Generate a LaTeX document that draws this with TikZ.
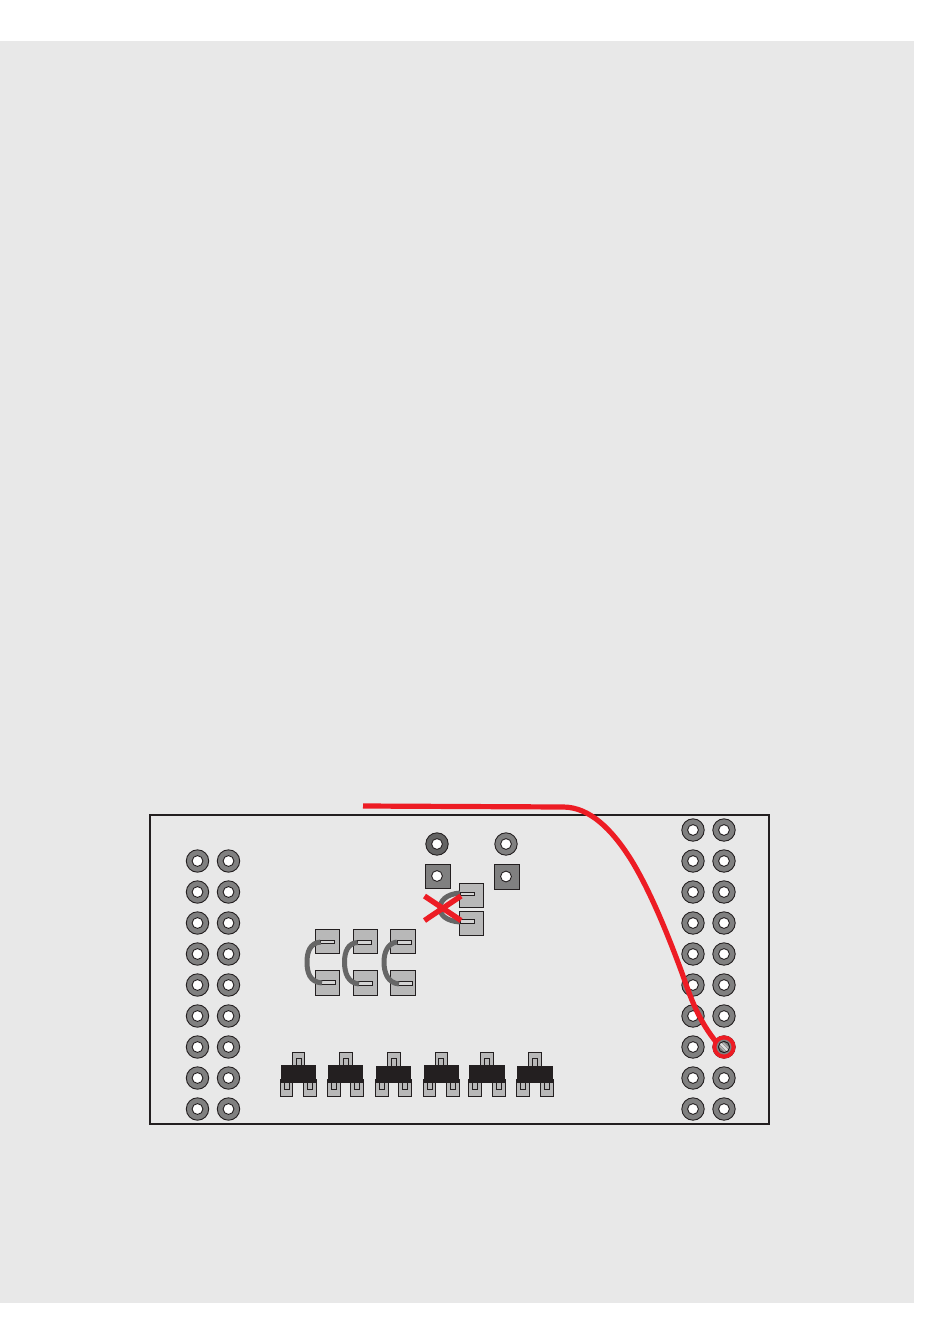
\documentclass[tikz,border=0pt]{standalone}
\definecolor{bgc}{HTML}{E8E8E8}
\definecolor{ink}{HTML}{231F20}
\definecolor{ringc}{HTML}{808080}
\definecolor{ringd}{HTML}{636363}
\definecolor{padc}{HTML}{B8B8B8}
\definecolor{wirec}{HTML}{666666}
\definecolor{redc}{HTML}{ED1C24}
\tikzset{
  ringpad/.style={draw=ink,line width=0.9pt,fill=ringc},
  holec/.style={draw=ink,line width=0.9pt,fill=white},
  lightpad/.style={draw=ink,line width=0.9pt,fill=padc},
  graypad/.style={draw=ink,line width=0.9pt,fill=ringc},
  slotc/.style={draw=ink,line width=0.9pt,fill=padc!60!white},
  tabc/.style={draw=ink,line width=1pt,fill=padc},
  greywire/.style={draw=wirec,line width=5pt},
  redwire/.style={draw=redc,line width=5.2pt},
  redcross/.style={draw=redc,line width=5.4pt},
}
\newcommand{\ringat}[3][ringc]{%
  \fill[ringpad,fill=#1] (#2,#3) circle (11.2);
  \draw[holec] (#2,#3) circle (5.4);}
% \xstor{tab l}{tab r}{body l}{body r}{body top}{foot1 l}{foot1 r}{foot2 l}{foot2 r}
\newcommand{\xstor}[9]{%
  \draw[tabc] (#1,1052.3) rectangle (#2,1070);
  \draw[tabc] ({(#1+#2)/2-2.5},1058.3) rectangle ({(#1+#2)/2+2.5},1070);
  \draw[tabc] (#6,1080) rectangle (#7,1096.7);
  \draw[tabc] (#8,1080) rectangle (#9,1096.7);
  \draw[tabc] ({(#6+#7)/2-2.5},1080) rectangle ({(#6+#7)/2+2.5},1089.3);
  \draw[tabc] ({(#8+#9)/2-2.5},1080) rectangle ({(#8+#9)/2+2.5},1089.3);
  \fill[ink] (#3,#5) rectangle (#4,1082.7);
  \fill[ink] (#6-0.5,1079.3) rectangle (#9+0.5,1082.7);}
\begin{document}
\begin{tikzpicture}[x=1pt,y=-1pt]
\useasboundingbox (0,0) rectangle (950,1339);
\fill[white] (0,0) rectangle (950,1339);
\fill[bgc] (0,41) rectangle (914,1303);
\draw[ink,line width=2pt] (150,815) rectangle (769,1124);
% ring pads, left
\foreach \yy in {861,892,923,954,985,1016,1047,1078,1109}{
  \ringat{197.5}{\yy}\ringat{228.5}{\yy}}
% ring pads, right
\foreach \yy in {830,861,892,923,954,985,1016,1047,1078,1109}{
  \ringat{693}{\yy}\ringat{724}{\yy}}
% top pads
\ringat[ringd]{437}{844}
\ringat{506}{844}
\draw[graypad] (425,864) rectangle (450,888.5);
\draw[holec] (437,876) circle (5.4);
\draw[graypad] (494,864.5) rectangle (519,889);
\draw[holec] (506,876.5) circle (5.4);
% jumper pads
\draw[lightpad] (459.5,883.5) rectangle (483.5,907.5);
\draw[lightpad] (459.5,911.5) rectangle (483.5,935.5);
\draw[slotc] (460,892) rectangle (474.5,895.5);
\draw[slotc] (460,919.5) rectangle (474.5,923);
\draw[greywire] (460,893) .. controls (446,894) and (440,901) .. (440,908)
   .. controls (440,915) and (446,921) .. (460,922);
\draw[lightpad] (315.5,929.5) rectangle (339.5,953.5);
\draw[lightpad] (315.5,970.5) rectangle (339.5,995.5);
\draw[lightpad] (353.5,929.5) rectangle (377.5,953.5);
\draw[lightpad] (353.5,970.5) rectangle (377.5,995.5);
\draw[lightpad] (390.5,929.5) rectangle (415.5,953.5);
\draw[lightpad] (390.5,970.5) rectangle (415.5,995.5);
\draw[slotc] (320,940.5) rectangle (334.5,943.8);
\draw[slotc] (321,980.5) rectangle (335.5,984.5);
\draw[slotc] (357.5,940.5) rectangle (371.5,944.5);
\draw[slotc] (358.5,981.5) rectangle (372.5,985.5);
\draw[slotc] (397.5,940.5) rectangle (411.5,944);
\draw[slotc] (398.5,981) rectangle (412.5,985);
\draw[greywire] (320.5,942) .. controls (310,943) and (307,952) .. (307,962)
   .. controls (307,973) and (310,982) .. (322,983);
\draw[greywire] (357.5,942.5) .. controls (348,943) and (344.5,952) .. (344.5,962)
   .. controls (344.5,973) and (348,983) .. (359,984);
\draw[greywire] (397,942) .. controls (388,943) and (384,952) .. (384,962)
   .. controls (384,973) and (388,983) .. (399,984);
% red cross
\draw[redcross] (424.5,896) -- (461,920.5);
\draw[redcross] (424.5,920.5) -- (461,896);
% transistors
\xstor{292.3}{304.7}{281}{316}{1065}{280.3}{292.7}{303.3}{316.7}
\xstor{339.3}{352.3}{328}{363}{1065}{327}{340}{350.3}{363.7}
\xstor{387}{400}{376}{411}{1066}{375.3}{388}{398.3}{411.7}
\xstor{435}{447.7}{424}{459}{1065}{423.3}{435.7}{446.3}{459.7}
\xstor{480.3}{493.7}{469}{505}{1065}{468.3}{481.7}{492.3}{505}
\xstor{528.3}{541.7}{517}{553}{1066}{516.3}{529}{540.3}{553}
% target hole
\fill[ringc] (724,1047) circle (5.6);
\begin{scope}
\clip (724,1047) circle (5.6);
\draw[padc!50!white,line width=2.4pt] (724-6,1047-6) -- (724+6,1047+6);
\draw[padc,line width=1pt] (724-6,1047-2.6) -- (724+2.6,1047+6);
\draw[padc,line width=1pt] (724-2.6,1047-6) -- (724+6,1047+2.6);
\end{scope}
\draw[ink,line width=0.9pt] (724,1047) circle (5.6);
\draw[redc,line width=4pt] (724,1047) circle (9.6);
% red wire
\coordinate (wa) at (363,806);
\coordinate (wb) at (563,807);
\draw[redwire] (wa) -- (wb)
  .. controls (590,807) and (612,830) .. (630,858)
  .. controls (650,890) and (668,935) .. (682,973)
  .. controls (690,996) and (698,1020) .. (717,1043);
\end{tikzpicture}
\end{document}
